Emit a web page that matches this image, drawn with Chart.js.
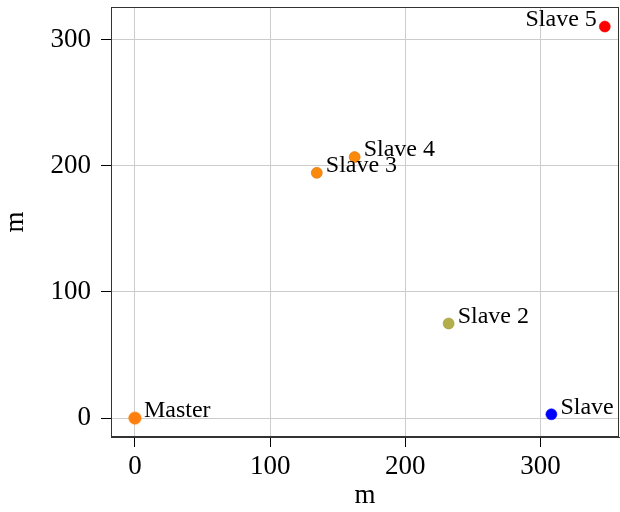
<!DOCTYPE html>
<html lang="en">
<head>
    <meta charset="UTF-8">
    <title>Node positions</title>
    <style>
        * { box-sizing: border-box; margin: 0; padding: 0; }
        body { background: #ffffff; }
        #wrap { width: 620px; height: 512px; }
    </style>
</head>
<body>
    <div id="wrap"><canvas id="posChart" width="620" height="512"></canvas></div>

    <script src="https://cdn.jsdelivr.net/npm/chart.js"></script>
    <script>
        // node data (metres)
        const names = ['Master', 'Slave 3', 'Slave 4', 'Slave 2', 'Slave', 'Slave 5'];
        const xs = [0, 134.5, 162.5, 232, 308, 347.5];
        const ys = [0, 194.5, 207, 75, 3, 310.5];
        const colors = ['#ff7f0e', '#fb8a0c', '#fb8a0c', '#b3ae4a', '#0000ff', '#ff0000'];
        const edges = ['#ff7f0e', '#d9730a', '#d9730a', '#9c9840', '#0000ff', '#ff0000'];
        const tickValues = [0, 100, 200, 300];

        const serif = '"Liberation Serif", "DejaVu Serif", serif';
        const leftLabels = ['Slave 5'];

        // labels next to each point + full frame
        const pointLabels = {
            id: 'pointLabels',
            afterDatasetsDraw(chart) {
                const ctx = chart.ctx;
                const a = chart.chartArea;
                ctx.save();
                ctx.strokeStyle = '#333';
                ctx.lineWidth = 1;
                ctx.strokeRect(a.left + 0.5, a.top + 0.5, a.right - a.left - 1, a.bottom - a.top - 1);
                ctx.font = '24px ' + serif;
                ctx.fillStyle = '#000';
                ctx.textBaseline = 'middle';
                chart.getDatasetMeta(0).data.forEach((pt, i) => {
                    if (leftLabels.includes(names[i])) {
                        ctx.textAlign = 'right';
                        ctx.fillText(names[i], pt.x - 8, pt.y - 7);
                    } else {
                        ctx.textAlign = 'left';
                        ctx.fillText(names[i], pt.x + 9, pt.y - 7);
                    }
                });
                ctx.restore();
            }
        };

        const axisCommon = {
            type: 'linear',
            grid: { color: '#cccccc', lineWidth: 1, tickColor: '#000', tickLength: 10, drawTicks: true },
            border: { color: '#333', width: 1 },
            title: { display: true, text: 'm', color: '#000', font: { family: serif, size: 27 }, padding: 0 }
        };

        const ctx = document.getElementById('posChart').getContext('2d');
        const chart = new Chart(ctx, {
            type: 'scatter',
            data: {
                datasets: [{
                    data: xs.map((x, i) => ({ x: x, y: ys[i] })),
                    pointBackgroundColor: colors,
                    pointBorderColor: edges,
                    pointBorderWidth: 0.6,
                    pointRadius: names.map(n => n === 'Master' ? 6.2 : 5.5),
                    pointHoverRadius: 6
                }]
            },
            options: {
                responsive: false,
                animation: false,
                layout: { autoPadding: false, padding: { top: 7, right: 1, left: 0, bottom: 0 } },
                plugins: { legend: { display: false }, tooltip: { enabled: false } },
                scales: {
                    x: {
                        ...axisCommon,
                        min: -17.7,
                        max: 358,
                        afterFit: s => { s.height = 75; s.paddingLeft = 0; s.paddingRight = 0; },
                        afterBuildTicks: s => { s.ticks = tickValues.map(v => ({ value: v })); },
                        ticks: { color: '#000', font: { family: serif, size: 27 }, padding: 4, maxRotation: 0 }
                    },
                    y: {
                        ...axisCommon,
                        min: -15,
                        max: 326,
                        afterFit: s => { s.width = 111; s.paddingTop = 0; s.paddingBottom = 0; },
                        afterBuildTicks: s => { s.ticks = tickValues.map(v => ({ value: v })); },
                        ticks: { color: '#000', font: { family: serif, size: 27 }, padding: 10 }
                    }
                }
            },
            plugins: [pointLabels]
        });
    </script>
</body>
</html>
